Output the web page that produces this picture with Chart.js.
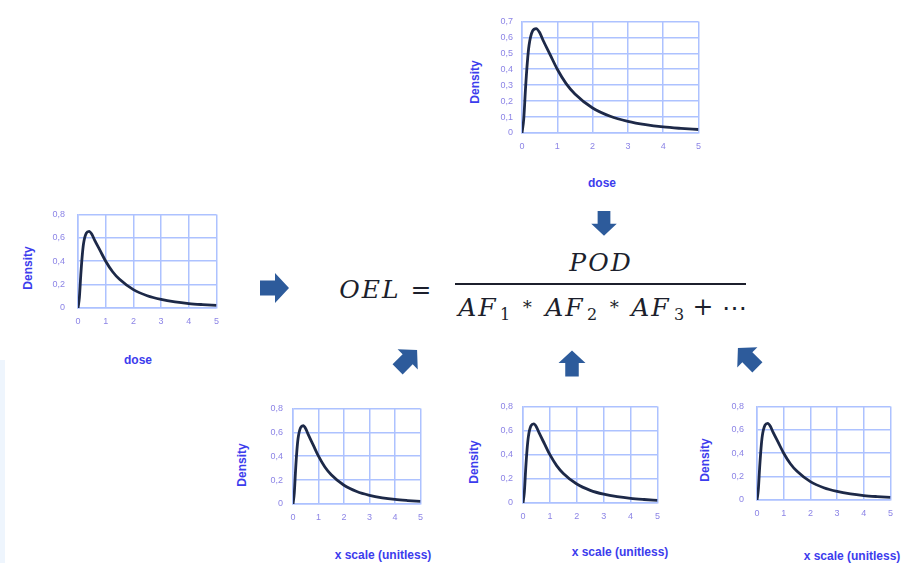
<!DOCTYPE html>
<html>
<head>
<meta charset="utf-8">
<script src="https://cdn.jsdelivr.net/npm/chart.js@4.4.1/dist/chart.umd.min.js"></script>
<style>
  html, body { margin: 0; padding: 0; background: #fff; }
  #stage { position: relative; width: 909px; height: 563px; overflow: hidden; background: #fff; }
  canvas { position: absolute; }
  .ytitle, .xtitle {
    position: absolute; font-family: "Liberation Sans", Arial, sans-serif;
    font-weight: bold; font-size: 12px; color: #3c3ced; white-space: nowrap;
    transform: translate(-50%, -50%); line-height: 1;
  }
  .ytitle { transform: translate(-50%, -50%) rotate(-90deg); }
  .math {
    position: absolute; font-family: "DejaVu Serif", serif; font-style: italic;
    font-size: 25px; color: #1c1f2c; line-height: 1; white-space: nowrap;
    transform: translate(-50%, -50%);
  }
  .sub { font-size: 16px; }
  #fracLine { position: absolute; left: 455px; top: 283px; width: 291px; height: 2px; background: #1c1f2c; }
  #strip { position: absolute; left: 0; top: 360px; width: 5px; height: 203px; background: #eef5fd; }
</style>
</head>
<body>
<div id="stage">
  <div id="strip"></div>
  <svg id="arrows" width="909" height="563" style="position:absolute;left:0;top:0"></svg>
  <div id="fracLine"></div>
</div>
<script>
// Données (densité en fonction de la dose)
const doseX = [0, 0.05, 0.1, 0.15, 0.2, 0.3, 0.4, 0.5, 0.6, 0.8, 1, 1.25, 1.5, 2, 2.5, 3, 3.5, 4, 4.5, 5];
const densityY = [0, 0.09, 0.28, 0.44, 0.55, 0.64, 0.655, 0.63, 0.58, 0.49, 0.40, 0.31, 0.245, 0.157, 0.105, 0.073, 0.052, 0.038, 0.029, 0.022];
// les trois facteurs d'ajustement ont la même allure
const factorY = densityY;

const xTicks = [0, 1, 2, 3, 4, 5];
const yTitle = 'Density';
const xTitles = ['dose', 'dose', 'x scale (unitless)', 'x scale (unitless)', 'x scale (unitless)'];

// Mise en page des 5 petits graphes (zone de tracé en px)
const boxes = [
    { l: 522, t: 15,  r: 701, b: 133, yMax: 0.7, yStep: 0.1, pad: 9,  series: densityY, yt: [475, 82],  xt: [602, 183] },
    { l: 78,  t: 204, r: 219, b: 308, yMax: 0.8, yStep: 0.2, pad: 13, series: densityY, yt: [28, 268],  xt: [138, 360] },
    { l: 293, t: 401, r: 423, b: 504, yMax: 0.8, yStep: 0.2, pad: 10, series: factorY,  yt: [242, 465], xt: [383, 555] },
    { l: 523, t: 399, r: 660, b: 503, yMax: 0.8, yStep: 0.2, pad: 10, series: factorY,  yt: [474, 462], xt: [620, 552] },
    { l: 757, t: 396, r: 893, b: 500, yMax: 0.8, yStep: 0.2, pad: 13, series: factorY,  yt: [705, 460], xt: [852, 556] }
];

const stage = document.getElementById('stage');
const gridBlue = '#adc2ff';
const tickColor = '#8c84e6';
const Y_W = 40, X_H = 25, PAD_T = 8, PAD_R = 8;

function virgule(v) {
    const r = Math.round(v * 10) / 10;
    return r === 0 ? '0' : r.toFixed(1).replace('.', ',');
}

boxes.forEach((bx, i) => {
    const c = document.createElement('canvas');
    const w = bx.r - bx.l + Y_W + PAD_R;
    const h = bx.b - bx.t + PAD_T + X_H;
    c.width = w; c.height = h;
    c.style.left = (bx.l - Y_W) + 'px';
    c.style.top = (bx.t - PAD_T) + 'px';
    c.style.width = w + 'px'; c.style.height = h + 'px';
    stage.appendChild(c);

    new Chart(c.getContext('2d'), {
        type: 'line',
        data: {
            datasets: [{
                data: doseX.map((x, k) => ({ x: x, y: bx.series[k] })),
                borderColor: '#1d2948',
                borderWidth: 2.8,
                pointRadius: 0,
                fill: false,
                cubicInterpolationMode: 'monotone'
            }]
        },
        options: {
            responsive: false,
            animation: false,
            devicePixelRatio: 1,
            layout: { padding: { top: PAD_T, right: PAD_R, left: 0, bottom: 0 } },
            plugins: { legend: { display: false }, tooltip: { enabled: false } },
            scales: {
                x: {
                    type: 'linear', min: 0, max: 5,
                    afterFit: s => { s.height = X_H; },
                    afterBuildTicks: s => { s.ticks = xTicks.map(v => ({ value: v })); },
                    grid: { color: gridBlue, lineWidth: 1.5, drawTicks: false },
                    border: { color: gridBlue, width: 1.5 },
                    ticks: { color: tickColor, padding: 8, font: { family: 'Liberation Sans', size: 9 }, maxRotation: 0 }
                },
                y: {
                    min: 0, max: bx.yMax,
                    afterFit: s => { s.width = Y_W; },
                    grid: { color: gridBlue, lineWidth: 1.5, drawTicks: false },
                    border: { color: gridBlue, width: 1.5 },
                    ticks: { stepSize: bx.yStep, color: tickColor, padding: bx.pad, callback: virgule,
                             font: { family: 'Liberation Sans', size: 9 } }
                }
            }
        }
    });

    const yt = document.createElement('div');
    yt.className = 'ytitle'; yt.textContent = yTitle;
    yt.style.left = bx.yt[0] + 'px'; yt.style.top = bx.yt[1] + 'px';
    stage.appendChild(yt);

    const xt = document.createElement('div');
    xt.className = 'xtitle'; xt.textContent = xTitles[i];
    xt.style.left = bx.xt[0] + 'px'; xt.style.top = bx.xt[1] + 'px';
    stage.appendChild(xt);
});

// Formule OEL
const pieces = [
    ['OEL', 370, 289], ['=', 421, 289], ['POD', 601, 262],
    ['AF', 478, 307], ['∗', 527, 304], ['AF', 565, 307], ['∗', 614, 304],
    ['AF', 651, 307], ['+', 703, 306], ['⋯', 734, 307]
];
pieces.forEach(p => {
    const s = document.createElement('div');
    s.className = 'math'; s.textContent = p[0];
    s.style.left = p[1] + 'px'; s.style.top = p[2] + 'px';
    if (p[0] === 'OEL' || p[0] === 'POD' || p[0] === 'AF') s.style.letterSpacing = '2px';
    if (p[0] === '=' || p[0] === '+' || p[0] === '⋯' || p[0] === '∗') s.style.fontStyle = 'normal';
    if (p[0] === '∗') s.style.fontSize = '18px';
    stage.appendChild(s);
});
[['1', 505, 315], ['2', 592, 315], ['3', 679, 315]].forEach(p => {
    const s = document.createElement('div');
    s.className = 'math sub'; s.textContent = p[0];
    s.style.fontStyle = 'normal';
    s.style.left = p[1] + 'px'; s.style.top = p[2] + 'px';
    stage.appendChild(s);
});

// Flèches (pointent vers la formule)
const arrows = [
    { cx: 274, cy: 288, a: 0,    s: 1 },
    { cx: 604, cy: 223, a: 90,   s: 0.85 },
    { cx: 407, cy: 360, a: -45,  s: 0.95 },
    { cx: 572, cy: 364, a: -90,  s: 0.9 },
    { cx: 748, cy: 358, a: -135, s: 0.95 }
];
const svg = document.getElementById('arrows');
svg.innerHTML = arrows.map(ar =>
    `<g transform="translate(${ar.cx},${ar.cy}) rotate(${ar.a}) scale(${ar.s})">
       <polygon points="-14,-7.5 1,-7.5 1,-15 15,0 1,15 1,7.5 -14,7.5" fill="#2d5b9b"/>
     </g>`).join('');
</script>
</body>
</html>
